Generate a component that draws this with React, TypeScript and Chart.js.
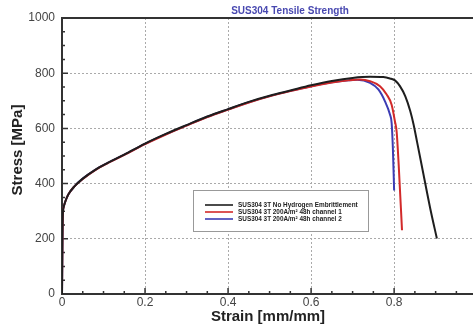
import React, { useEffect, useRef } from "react";
import { Chart, registerables } from "chart.js";

Chart.register(...registerables);

const chartTitle = "SUS304 Tensile Strength";
const xAxisTitle = "Strain [mm/mm]";
const yAxisTitle = "Stress [MPa]";
const seriesNames = [
  "SUS304 3T No Hydrogen Embrittlement",
  "SUS304 3T 200A/m² 48h channel 1",
  "SUS304 3T 200A/m² 48h channel 2",
];
const seriesColors = ["#1e1e1e", "#d22a2a", "#3c3cb4"];

const xTickValues = [0, 0.2, 0.4, 0.6, 0.8];
const xTickLabels = ["0", "0.2", "0.4", "0.6", "0.8"];
const yTickValues = [0, 200, 400, 600, 800, 1000];
const yTickLabels = ["0", "200", "400", "600", "800", "1000"];

const strainBlack = [0, 0.001, 0.002, 0.004, 0.008, 0.015, 0.03, 0.05, 0.08, 0.11, 0.15, 0.2, 0.25, 0.3, 0.35, 0.4, 0.45, 0.5, 0.55, 0.6, 0.65, 0.7, 0.742, 0.774, 0.79, 0.802, 0.814, 0.827, 0.839, 0.847, 0.855, 0.871, 0.887, 0.903];
const stressBlack = [0, 200, 290, 315, 335, 360, 390, 418, 450, 475, 505, 545, 580, 612, 643, 670, 696, 718, 737, 756, 772, 783, 787, 786, 781, 774, 753, 716, 662, 613, 553, 431, 310, 201];

const strainRed = [0, 0.001, 0.002, 0.004, 0.008, 0.015, 0.03, 0.05, 0.08, 0.11, 0.15, 0.2, 0.25, 0.3, 0.35, 0.4, 0.45, 0.5, 0.55, 0.6, 0.65, 0.69, 0.718, 0.742, 0.766, 0.782, 0.794, 0.802, 0.806, 0.811, 0.819];
const stressRed = [0, 200, 290, 315, 335, 360, 390, 417, 449, 474, 504, 543, 578, 610, 641, 668, 694, 716, 735, 752, 766, 774, 777, 771, 753, 723, 686, 625, 589, 468, 231];

const strainBlue = [0, 0.001, 0.002, 0.004, 0.008, 0.015, 0.03, 0.05, 0.08, 0.11, 0.15, 0.2, 0.25, 0.3, 0.35, 0.4, 0.45, 0.5, 0.55, 0.6, 0.65, 0.69, 0.711, 0.742, 0.762, 0.778, 0.79, 0.794, 0.797, 0.8];
const stressBlue = [0, 200, 290, 315, 335, 360, 390, 418, 450, 475, 505, 544, 579, 611, 642, 669, 695, 717, 736, 753, 767, 774, 776, 765, 741, 698, 650, 620, 528, 375];

const FONT = "'Liberation Sans', Arial, sans-serif";

const toPoints = (xs: number[], ys: number[]) => xs.map((x, i) => ({ x, y: ys[i] }));

const isMultiple = (v: number, step: number) => Math.abs(v / step - Math.round(v / step)) < 1e-6;

const decorPlugin = {
  id: "decor",
  beforeDatasetsDraw(chart: any) {
    const { ctx, chartArea, scales } = chart;
    const { left, right, top, bottom } = chartArea;
    ctx.save();
    ctx.strokeStyle = "#333";
    ctx.lineWidth = 2;
    ctx.beginPath();
    ctx.moveTo(left, top);
    ctx.lineTo(right + 2, top);
    ctx.moveTo(left, top - 1);
    ctx.lineTo(left, bottom + 1);
    ctx.moveTo(left - 1, bottom);
    ctx.lineTo(right + 2, bottom);
    ctx.stroke();
    ctx.lineWidth = 1.5;
    ctx.beginPath();
    for (const t of scales.x.ticks) {
      const px = scales.x.getPixelForValue(t.value);
      const len = isMultiple(t.value, 0.2) ? 6 : 3;
      if (t.value === 0) continue;
      ctx.moveTo(px, bottom);
      ctx.lineTo(px, bottom - len);
    }
    for (const t of scales.y.ticks) {
      const py = scales.y.getPixelForValue(t.value);
      const len = isMultiple(t.value, 200) ? 6 : 3;
      if (t.value === 0 || t.value === 1000) continue;
      ctx.moveTo(left, py);
      ctx.lineTo(left + len, py);
    }
    ctx.stroke();
    ctx.restore();
  },
  afterDraw(chart: any) {
    const { ctx } = chart;
    ctx.save();
    ctx.fillStyle = "#4848b0";
    ctx.font = `bold 10px ${FONT}`;
    ctx.textAlign = "center";
    ctx.textBaseline = "middle";
    ctx.fillText(chartTitle, 290, 11);
    ctx.fillStyle = "#222";
    ctx.font = `bold 15px ${FONT}`;
    ctx.fillText(xAxisTitle, 268, 317);
    ctx.save();
    ctx.translate(18, 150);
    ctx.rotate(-Math.PI / 2);
    ctx.fillText(yAxisTitle, 0, 0);
    ctx.restore();
    const bx = 193, by = 190, bw = 175, bh = 41;
    ctx.fillStyle = "#fff";
    ctx.fillRect(bx, by, bw, bh);
    ctx.strokeStyle = "#999";
    ctx.lineWidth = 1;
    ctx.strokeRect(bx + 0.5, by + 0.5, bw, bh);
    ctx.font = `bold 6.4px ${FONT}`;
    ctx.textAlign = "left";
    seriesNames.forEach((name, i) => {
      const y = 205 + i * 7;
      ctx.strokeStyle = seriesColors[i];
      ctx.lineWidth = 1.6;
      ctx.beginPath();
      ctx.moveTo(205, y);
      ctx.lineTo(233, y);
      ctx.stroke();
      ctx.fillStyle = "#222";
      ctx.fillText(name, 238, y);
    });
    ctx.restore();
  },
};

export default function App() {
  const ref = useRef<HTMLCanvasElement | null>(null);
  useEffect(() => {
    if (!ref.current) return;
    const ds = [
      toPoints(strainBlack, stressBlack),
      toPoints(strainRed, stressRed),
      toPoints(strainBlue, stressBlue),
    ];
    const chart = new Chart(ref.current, {
      type: "scatter",
      data: {
        datasets: ds.map((data, i) => ({
          label: seriesNames[i],
          data,
          showLine: true,
          borderColor: seriesColors[i],
          backgroundColor: seriesColors[i],
          borderWidth: 2,
          pointRadius: 0,
          cubicInterpolationMode: "monotone",
        })),
      },
      options: {
        animation: false,
        responsive: false,
        devicePixelRatio: 1,
        layout: { padding: { top: 18, right: 0, left: 0, bottom: 0 } },
        plugins: {
          legend: { display: false },
          title: { display: false },
          tooltip: { enabled: false },
        },
        scales: {
          x: {
            type: "linear",
            min: 0,
            max: 0.99,
            afterBuildTicks: (s: any) => {
              const t = [];
              for (let i = 0; i <= 19; i++) t.push({ value: +(i * 0.05).toFixed(2) });
              s.ticks = t;
            },
            afterFit: (s: any) => {
              s.height = 31;
            },
            ticks: {
              autoSkip: false,
              maxRotation: 0,
              padding: 1,
              color: "#444",
              font: { size: 12, family: FONT },
              callback: (v: any) => {
                const idx = xTickValues.findIndex((t) => Math.abs(t - v) < 1e-6);
                return idx >= 0 ? xTickLabels[idx] : "";
              },
            },
            grid: {
              drawTicks: false,
              color: (c: any) => (c.tick && isMultiple(c.tick.value, 0.2) && c.tick.value > 0 ? "#aaa" : "transparent"),
              lineWidth: 1,
            },
            border: { display: false, dash: [2, 2] },
          },
          y: {
            type: "linear",
            min: 0,
            max: 1000,
            afterBuildTicks: (s: any) => {
              const t = [];
              for (let i = 0; i <= 20; i++) t.push({ value: i * 50 });
              s.ticks = t;
            },
            afterFit: (s: any) => {
              s.width = 62;
            },
            ticks: {
              autoSkip: false,
              padding: 7,
              color: "#444",
              font: { size: 12, family: FONT },
              callback: (v: any) => {
                const idx = yTickValues.indexOf(v);
                return idx >= 0 ? yTickLabels[idx] : "";
              },
            },
            grid: {
              drawTicks: false,
              color: (c: any) => (c.tick && isMultiple(c.tick.value, 200) && c.tick.value > 0 && c.tick.value < 1000 ? "#aaa" : "transparent"),
              lineWidth: 1,
            },
            border: { display: false, dash: [2, 2] },
          },
        },
      },
      plugins: [decorPlugin],
    } as any);
    return () => chart.destroy();
  }, []);
  return (
    <div style={{ position: "fixed", left: 0, top: 0, width: 473, height: 325, background: "#fff" }}>
      <canvas ref={ref} width={473} height={325} />
    </div>
  );
}
